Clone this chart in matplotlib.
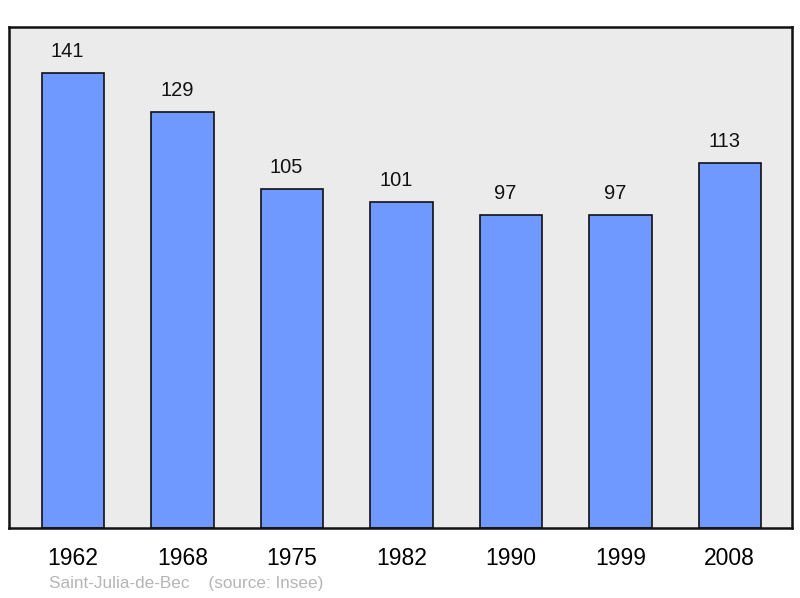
import matplotlib.pyplot as plt

plt.rcParams['font.family'] = ['Liberation Sans', 'DejaVu Sans']

years = ['1962', '1968', '1975', '1982', '1990', '1999', '2008']
population = [141, 129, 105, 101, 97, 97, 113]

fig = plt.figure(figsize=(8, 5.98), dpi=100)
ax = fig.add_axes([0.01125, 0.117, 0.979, 0.838])
ax.set_facecolor('#ebebeb')

x = list(range(len(years)))
ax.bar(x, population, width=0.57, color='#7099ff', edgecolor='#111111', linewidth=1.2, zorder=2)

# labels sit a bit left of the bar centres, like the original
for xi, v in zip(x, population):
    ax.text(xi - 0.05, v + 6.7, str(v), ha='center', va='center', fontsize=14.5, color='#111111')

ax.set_xlim(-0.585, 6.57)
ax.set_ylim(0, 155.3)
ax.set_xticks(x)
ax.set_xticklabels(years, fontsize=16.5)
ax.tick_params(axis='x', length=0, pad=14)
ax.set_yticks([])
for s in ax.spines.values():
    s.set_linewidth(1.8)
    s.set_color('#111111')

fig.text(0.061, 0.012, 'Saint-Julia-de-Bec    (source: Insee)', fontsize=12.3, color='#b5b5b5', ha='left', va='bottom')

fig.savefig('out.png', dpi=100)
